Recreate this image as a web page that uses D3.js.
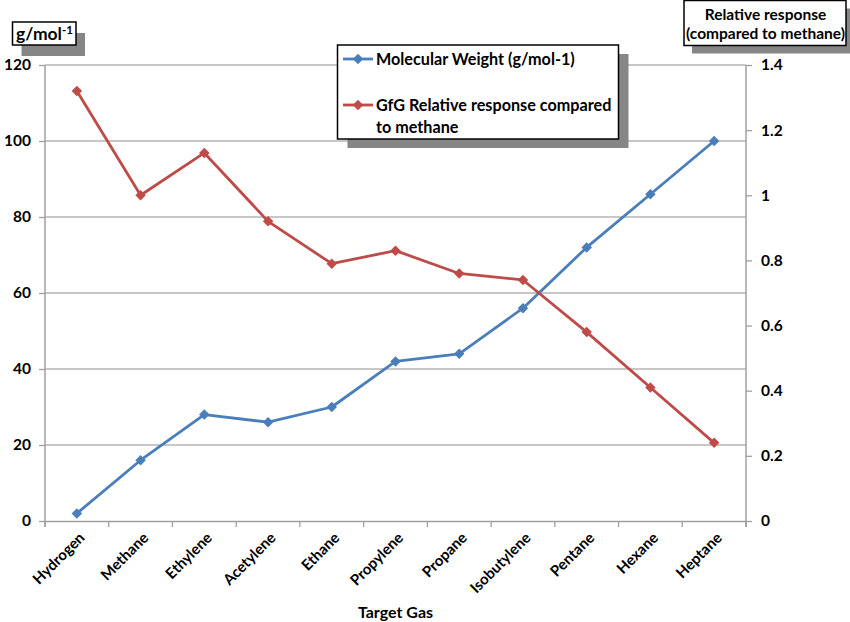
<!DOCTYPE html>
<html>
<head>
<meta charset="utf-8">
<script src="https://cdn.jsdelivr.net/npm/d3@7"></script>
<style>
  html, body { margin: 0; padding: 0; background: #fff; }
  svg text { font-family: Lato, "Open Sans", sans-serif; font-weight: 700; fill: #000; }
</style>
</head>
<body>
<svg id="chart" width="850" height="622"></svg>
<script>
// Target gases along the x axis
const gases = ["Hydrogen", "Methane", "Ethylene", "Acetylene", "Ethane", "Propylene",
               "Propane", "Isobutylene", "Pentane", "Hexane", "Heptane"];
// Molecular weight, g/mol (left axis)
const molecularWeight = [2, 16, 28, 26, 30, 42, 44, 56, 72, 86, 100];
// GfG sensor response relative to methane (right axis)
const relativeResponse = [1.32, 1.0, 1.13, 0.92, 0.79, 0.83, 0.76, 0.74, 0.58, 0.41, 0.24];
// Axis ticks
const leftTicks = [0, 20, 40, 60, 80, 100, 120];
const rightTicks = [0, 0.2, 0.4, 0.6, 0.8, 1, 1.2, 1.4];

const seriesNames = ["Molecular Weight (g/mol-1)", "GfG Relative response compared to methane"];
const blue = "#4a7ebb", red = "#be4b48";

const svg = d3.select("#chart");
const plot = { left: 45, right: 746, top: 65, bottom: 521 };

const x = d3.scaleBand().domain(gases).range([plot.left, plot.right]).padding(0);
const yL = d3.scaleLinear().domain([0, 120]).range([plot.bottom, plot.top]);
const yR = d3.scaleLinear().domain([0, 1.4]).range([plot.bottom, plot.top]);
const cx = d => x(d) + x.bandwidth() / 2;

// Horizontal gridlines from the left axis
svg.append("g").selectAll("line").data(leftTicks.filter(t => t > 0)).join("line")
  .attr("x1", plot.left).attr("x2", plot.right)
  .attr("y1", d => yL(d)).attr("y2", d => yL(d))
  .attr("stroke", "#b4b4b4").attr("stroke-width", 1.3);

// Left axis
const gL = svg.append("g").attr("transform", `translate(${plot.left},0)`)
  .call(d3.axisLeft(yL).tickValues(leftTicks).tickSize(6).tickPadding(8).tickFormat(d3.format("d")));
// Right axis
const gR = svg.append("g").attr("transform", `translate(${plot.right},0)`)
  .call(d3.axisRight(yR).tickValues(rightTicks).tickSize(6).tickPadding(9).tickFormat(d => d3.format("~g")(d)));
// Bottom axis with a tick at every category boundary
const gB = svg.append("g").attr("transform", `translate(0,${plot.bottom})`)
  .call(d3.axisBottom(x).tickSize(0).tickFormat(""));
gB.selectAll(".bnd").data(d3.range(gases.length + 1)).join("line")
  .attr("class", "bnd")
  .attr("x1", i => plot.left + i * x.step()).attr("x2", i => plot.left + i * x.step())
  .attr("y1", 0).attr("y2", 6).attr("stroke", "#a0a0a0").attr("stroke-width", 1.3);

[gL, gR, gB].forEach(g => {
  g.select(".domain").attr("stroke", "#a0a0a0").attr("stroke-width", 1.5);
  g.selectAll(".tick line").attr("stroke", "#a0a0a0").attr("stroke-width", 1.3);
  g.selectAll(".tick text").style("font-size", "15.5px").style("font-weight", 700)
    .style("font-family", "Lato, sans-serif").attr("fill", "#000");
});
gL.select(".domain").attr("d", `M0,${plot.bottom + 6}V${plot.top}`);
gR.select(".domain").attr("d", `M0,${plot.bottom + 6}V${plot.top}`);

// Rotated category labels
svg.append("g").selectAll("text").data(gases).join("text")
  .attr("transform", d => `translate(${cx(d) + 5},${plot.bottom + 14}) rotate(-45)`)
  .attr("text-anchor", "end").attr("dy", "0.35em")
  .style("font-size", "15px").text(d => d);

// x axis title
svg.append("text").attr("x", (plot.left + plot.right) / 2).attr("y", 618)
  .attr("text-anchor", "middle").style("font-size", "16px").text("Target Gas");

// Diamond markers
const diamond = d3.symbol().type(d3.symbolDiamond2).size(70);

function drawSeries(values, scale, color) {
  const pts = gases.map((g, i) => [cx(g), scale(values[i])]);
  svg.append("path").datum(pts)
    .attr("d", d3.line())
    .attr("fill", "none").attr("stroke", color).attr("stroke-width", 2.8)
    .attr("stroke-linejoin", "round");
  svg.append("g").selectAll("path").data(pts).join("path")
    .attr("transform", d => `translate(${d[0]},${d[1]})`)
    .attr("d", diamond).attr("fill", color);
}
drawSeries(molecularWeight, yL, blue);
drawSeries(relativeResponse, yR, red);

// Boxed label with a drop shadow
function shadowBox(x0, y0, w, h, dx, dy) {
  svg.append("rect").attr("x", x0 + dx).attr("y", y0 + dy).attr("width", w).attr("height", h)
    .attr("fill", "#868686");
  svg.append("rect").attr("x", x0).attr("y", y0).attr("width", w).attr("height", h)
    .attr("fill", "#fff").attr("stroke", "#000").attr("stroke-width", 1.5);
}

// Left axis unit
shadowBox(12.5, 22, 63.5, 23, 9, 11);
const unit = svg.append("text").attr("x", 16).attr("y", 40).style("font-size", "17.5px");
unit.append("tspan").text("g/mol");
unit.append("tspan").attr("dy", -6).style("font-size", "11.5px").text("-1");

// Right axis unit
shadowBox(684, 0.5, 162, 45, 8, 8);
svg.append("text").attr("x", 765.5).attr("y", 20).attr("text-anchor", "middle")
  .style("font-size", "15.5px").text("Relative response");
svg.append("text").attr("x", 765.5).attr("y", 39).attr("text-anchor", "middle")
  .style("font-size", "15.5px").text("(compared to methane)");

// Legend
shadowBox(337.5, 45, 281, 94, 10, 9);
const legendRows = [
  { color: blue, lines: [seriesNames[0]], y: 59 },
  { color: red, lines: ["GfG Relative response compared", "to methane"], y: 105 }
];
legendRows.forEach(r => {
  svg.append("line").attr("x1", 343).attr("x2", 373).attr("y1", r.y).attr("y2", r.y)
    .attr("stroke", r.color).attr("stroke-width", 2.8);
  svg.append("path").attr("transform", `translate(358,${r.y})`).attr("d", diamond).attr("fill", r.color);
  r.lines.forEach((t, i) => {
    svg.append("text").attr("x", 376).attr("y", r.y + 6 + i * 22)
      .style("font-size", "16.2px").text(t);
  });
});
</script>
</body>
</html>
